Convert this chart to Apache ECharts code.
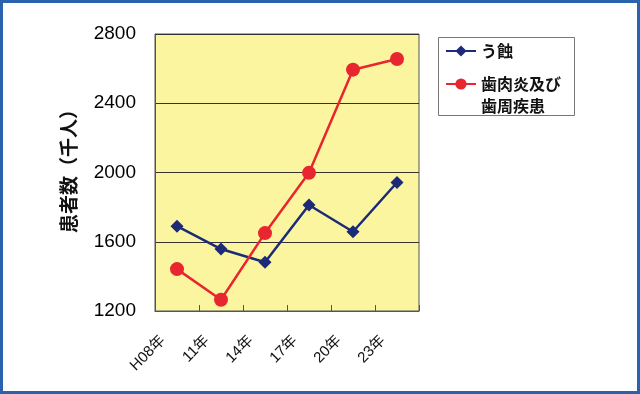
<!DOCTYPE html>
<html><head><meta charset="utf-8">
<script src="https://cdn.jsdelivr.net/npm/echarts@6/dist/echarts.min.js"></script>
<style>html,body{margin:0;padding:0;background:#fff}#c{width:640px;height:394px}</style>
</head><body><div id="c"></div>
<script>
const categories = ['H08年', '11年', '14年', '17年', '20年', '23年'];
const cariesName = 'う蝕';
const perioName = '歯肉炎及び\n歯周疾患';
const caries = [1690, 1558, 1482, 1812, 1658, 1942];
const perio = [1442, 1265, 1650, 1998, 2594, 2656];
const yTicks = { min: 1200, max: 2800, interval: 400 };

const jp = '"Noto Sans CJK JP", sans-serif';
const chart = echarts.init(document.getElementById('c'), null, { renderer: 'canvas' });
chart.setOption({
  backgroundColor: '#ffffff',
  animation: false,
  grid: {
    left: 155, top: 34, width: 264, height: 277,
    show: true, backgroundColor: '#fcf59f', borderColor: '#555', borderWidth: 1
  },
  xAxis: {
    type: 'category', data: categories, boundaryGap: true,
    axisLine: { show: true, lineStyle: { color: '#555', width: 1 } },
    axisTick: { show: true, inside: true, length: 6, lineStyle: { color: '#555' } },
    axisLabel: { rotate: 45, margin: 13, padding: [0, 20, 0, 0], fontSize: 15, color: '#111', fontFamily: '"Liberation Sans", ' + jp }
  },
  yAxis: {
    type: 'value', min: yTicks.min, max: yTicks.max, interval: yTicks.interval,
    name: '患者数（千人）', nameLocation: 'middle', nameGap: 77, nameRotate: 90,
    nameTextStyle: { fontSize: 19, fontWeight: 'bold', color: '#111', fontFamily: jp, padding: [0, 0, 0, 12] },
    axisLine: { show: true, lineStyle: { color: '#555' } },
    axisTick: { show: false },
    axisLabel: { fontSize: 19, color: '#000', margin: 19, fontFamily: '"Liberation Sans", sans-serif', formatter: v => String(v) },
    splitLine: { show: true, lineStyle: { color: '#333', width: 1 } }
  },
  legend: [
    {
      data: [cariesName], orient: 'vertical', left: 445, top: 43, padding: 0,
      itemWidth: 30, itemHeight: 14,
      textStyle: { fontSize: 16, fontWeight: 'bold', color: '#111', fontFamily: jp }
    },
    {
      data: [perioName], orient: 'vertical', left: 445, top: 51, padding: 0,
      itemWidth: 30, itemHeight: 14,
      formatter: n => ' \n' + n,
      textStyle: { fontSize: 16, fontWeight: 'bold', color: '#111', fontFamily: jp, lineHeight: 22 }
    }
  ],
  graphic: [
    { type: 'rect', shape: { x: 438.5, y: 37.5, width: 136, height: 78 }, style: { fill: '#fff', stroke: '#777', lineWidth: 1 }, z: -1 },
    { type: 'rect', shape: { x: 1.5, y: 1.5, width: 637, height: 391 }, style: { fill: 'none', stroke: '#2b62ad', lineWidth: 3 }, z: 100 }
  ],
  series: [
    {
      name: cariesName, type: 'line', data: caries,
      symbol: 'diamond', symbolSize: 13,
      lineStyle: { color: '#1c2a78', width: 2.5 },
      itemStyle: { color: '#1c2a78' }
    },
    {
      name: perioName, type: 'line', data: perio,
      symbol: 'circle', symbolSize: 14,
      lineStyle: { color: '#e8262f', width: 2.5 },
      itemStyle: { color: '#e8262f' }
    }
  ]
});
</script>
</body></html>
